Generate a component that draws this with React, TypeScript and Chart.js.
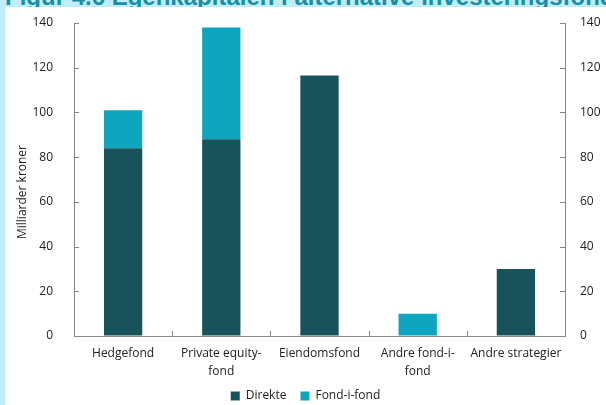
import React, { useEffect, useRef } from "react";
import { Chart, registerables } from "chart.js";

Chart.register(...registerables);

const categories: (string | string[])[] = [
  "Hedgefond",
  ["Private equity-", "fond"],
  "Eiendomsfond",
  ["Andre fond-i-", "fond"],
  "Andre strategier",
];
const direkte = [84, 88, 116.5, 0, 30];
const fondIFond = [17, 50, 0, 10, 0];
const yTicks = [0, 20, 40, 60, 80, 100, 120, 140];
const seriesNames = ["Direkte", "Fond-i-fond"];
const yTitle = "Milliarder kroner";
const figTitle = "Figur 4.6 Egenkapitalen i alternative investeringsfond";

const DARK = "#18525b";
const LIGHT = "#0ea5be";
const AXIS = "#858585";
const TEXT = "#222222";
const FONT = "'Open Sans', 'DejaVu Sans', sans-serif";

const innerTicks = {
  id: "innerTicks",
  afterDraw(chart: any) {
    const { ctx, chartArea, scales } = chart;
    ctx.save();
    ctx.strokeStyle = AXIS;
    ctx.lineWidth = 1;
    ctx.beginPath();
    for (const v of yTicks) {
      const py = Math.round(scales.y.getPixelForValue(v)) + 0.5;
      ctx.moveTo(chartArea.left, py);
      ctx.lineTo(chartArea.left + 5, py);
      ctx.moveTo(chartArea.right - 5, py);
      ctx.lineTo(chartArea.right, py);
    }
    for (let i = 1; i < categories.length; i++) {
      const px =
        Math.round((scales.x.getPixelForValue(i - 1) + scales.x.getPixelForValue(i)) / 2) + 0.5;
      ctx.moveTo(px, chartArea.bottom);
      ctx.lineTo(px, chartArea.bottom - 5);
    }
    ctx.stroke();
    // y title
    ctx.fillStyle = TEXT;
    ctx.font = `12px ${FONT}`;
    ctx.textAlign = "center";
    ctx.textBaseline = "middle";
    ctx.translate(18, 185);
    ctx.rotate(-Math.PI / 2);
    ctx.fillText(yTitle, 0, 0);
    ctx.restore();
  },
};

function zeroPad(scale: any) {
  scale.paddingTop = 0;
  scale.paddingBottom = 0;
}

export default function App() {
  const ref = useRef<HTMLCanvasElement | null>(null);
  useEffect(() => {
    if (!ref.current) return;
    const tickOpts = {
      color: TEXT,
      font: { family: FONT, size: 12 },
      stepSize: 20,
    };
    const chart = new Chart(ref.current, {
      type: "bar",
      data: {
        labels: categories as any,
        datasets: [
          {
            label: seriesNames[0],
            data: direkte,
            backgroundColor: DARK,
            borderWidth: 0,
            yAxisID: "y",
          },
          {
            label: seriesNames[1],
            data: fondIFond,
            backgroundColor: LIGHT,
            borderWidth: 0,
            yAxisID: "y",
          },
        ],
      },
      options: {
        animation: false,
        responsive: false,
        maintainAspectRatio: false,
        datasets: { bar: { barPercentage: 0.39, categoryPercentage: 1 } },
        layout: { padding: { top: 16, bottom: -7, left: 0, right: 0 } },
        plugins: {
          legend: {
            position: "bottom",
            labels: {
              boxWidth: 9,
              boxHeight: 9,
              padding: 14,
              color: TEXT,
              font: { family: FONT, size: 12 },
            },
          },
          tooltip: { enabled: false },
          title: { display: false },
        },
        scales: {
          x: {
            stacked: true,
            grid: { display: false, drawTicks: false },
            border: { display: true, color: AXIS, width: 1 },
            ticks: {
              color: TEXT,
              font: { family: FONT, size: 12, lineHeight: 1.5 },
              padding: 9,
              maxRotation: 0,
              autoSkip: false,
            },
            afterFit(scale: any) {
              scale.height = 40;
              scale.paddingLeft = 0;
              scale.paddingRight = 0;
            },
          },
          y: {
            stacked: true,
            position: "left",
            min: 0,
            max: 140,
            grid: { drawOnChartArea: false, drawTicks: false },
            border: { display: true, color: AXIS, width: 1 },
            ticks: { ...tickOpts, padding: 21 },
            afterFit(scale: any) {
              scale.width = 69;
              zeroPad(scale);
            },
          },
          y2: {
            position: "right",
            min: 0,
            max: 140,
            grid: { drawOnChartArea: false, drawTicks: false },
            border: { display: true, color: AXIS, width: 1 },
            ticks: { ...tickOpts, padding: 15 },
            afterFit(scale: any) {
              scale.width = 41;
              zeroPad(scale);
            },
          },
        },
      } as any,
      plugins: [innerTicks],
    });
    return () => chart.destroy();
  }, []);

  return (
    <div
      style={{
        position: "fixed",
        left: 0,
        top: 0,
        width: 606,
        height: 405,
        background: "#c0eef8",
        overflow: "hidden",
      }}
    >
      <div
        style={{
          position: "absolute",
          left: 5,
          top: -15,
          whiteSpace: "nowrap",
          font: "bold 24px 'Liberation Sans', Arial, sans-serif",
          lineHeight: "24px",
          color: "#1a8ea3",
        }}
      >
        {figTitle}
      </div>
      <div
        style={{
          position: "absolute",
          left: 5,
          top: 7,
          width: 601,
          height: 398,
          background: "#ffffff",
        }}
      >
        <canvas ref={ref} width={601} height={398} style={{ display: "block" }} />
      </div>
    </div>
  );
}
